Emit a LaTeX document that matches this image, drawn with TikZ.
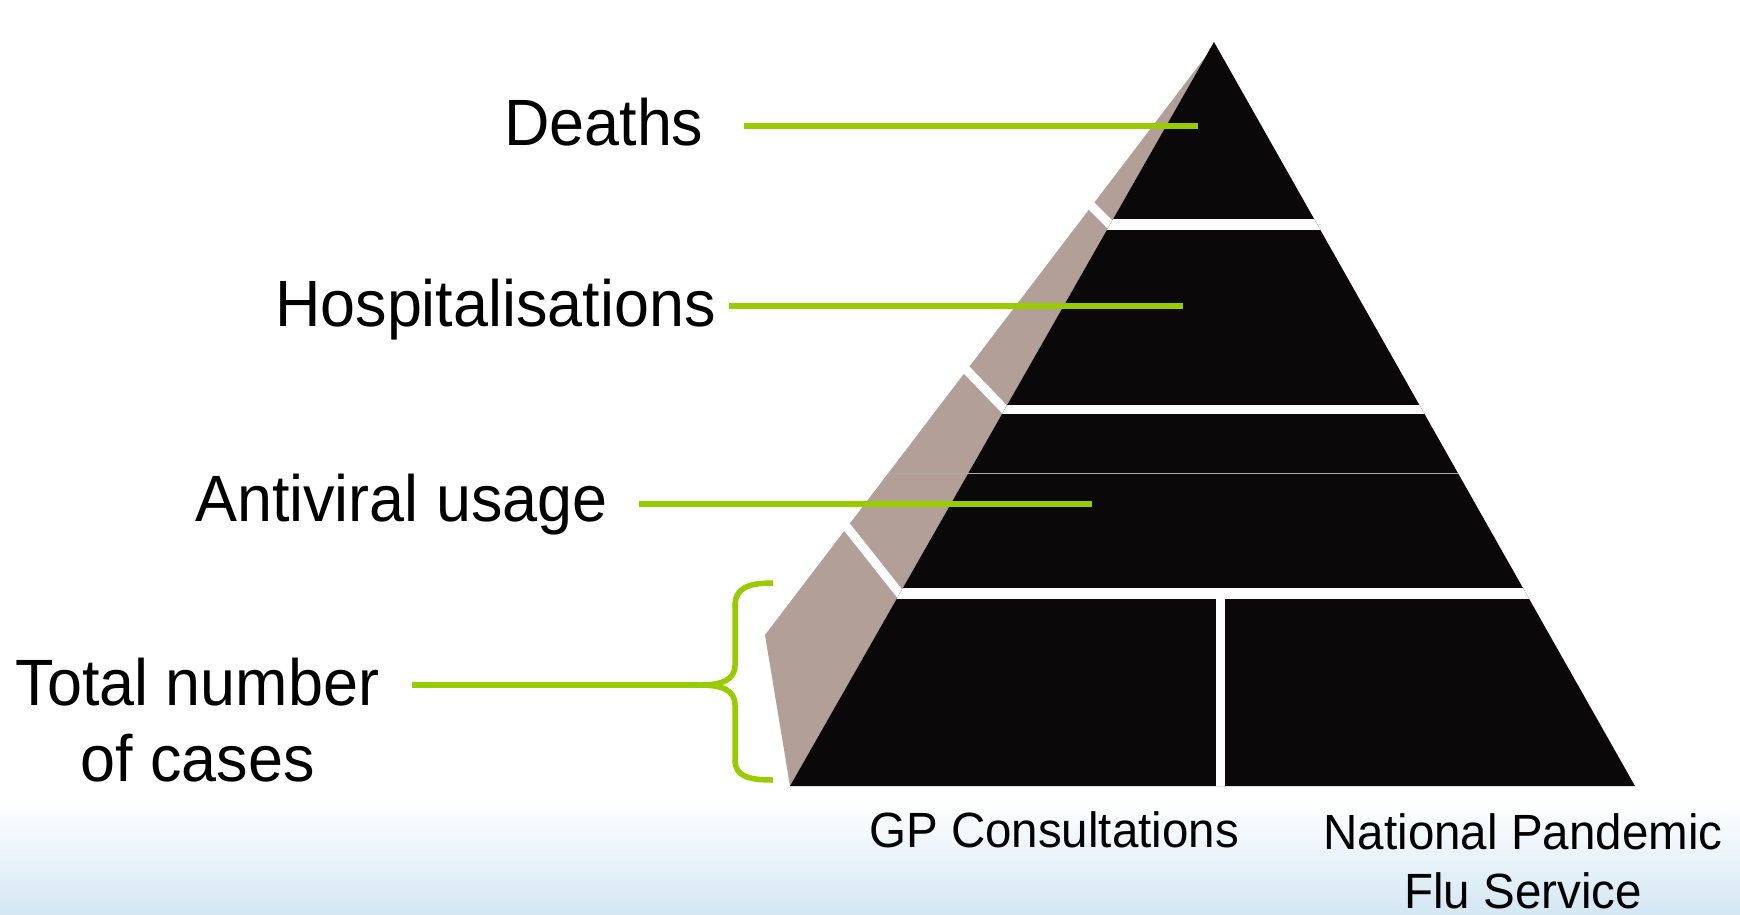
\documentclass[tikz,border=0pt]{standalone}
\usepackage{fontspec}
\setmainfont{Liberation Sans}[FakeStretch=0.96]
\definecolor{pgreen}{RGB}{153,204,0}
\definecolor{pblack}{RGB}{10,8,8}
\definecolor{pgray}{RGB}{178,160,152}
\definecolor{pblue}{RGB}{212,231,243}
\definecolor{partline}{RGB}{170,170,170}
\begin{document}
\begin{tikzpicture}[x=1pt,y=-1pt,
  lab/.style={inner sep=0pt, font=\fontsize{65.5}{75.5}\selectfont},
  sublab/.style={inner sep=0pt, font=\fontsize{49.5}{59}\selectfont},
  gline/.style={draw=pgreen, line width=6pt},
  bracestyle/.style={draw=pgreen, line width=5.5pt, line join=round},
  gapline/.style={draw=white, line width=9pt},
]
\useasboundingbox (0,0) rectangle (1740,914);
\fill[white] (0,0) rectangle (1740,914);
\shade[top color=white, bottom color=pblue] (0,800) rectangle (1740,914);

% grey side face of the pyramid
\fill[pgray] (1212,48) -- (765,635) -- (790,786) -- (1214,42) -- cycle;
% white gaps on the side face
\draw[gapline] (1116,230.5) -- (1078,192.5);
\draw[gapline] (1010,415) -- (955,358);
\draw[gapline] (904,599) -- (835,512);

% black pyramid
\fill[pblack] (1214,42) -- (790,786) -- (1635,786) -- cycle;
\begin{scope}
  \clip (1214,42) -- (790,786) -- (1635,786) -- cycle;
  \fill[white] (700,219) rectangle (1700,230);
  \fill[white] (700,405) rectangle (1700,414);
  \fill[white] (700,588) rectangle (1700,599);
  \fill[white] (1216,599) rectangle (1225,800);
\end{scope}
\draw[partline, line width=1pt] (888,473) -- (1458,473);

% labels
\node[lab, anchor=base west] (deaths) at (504,145) {Deaths};
\node[lab, anchor=base west] (hosp) at (275,326) {Hospitalisations};
\node[lab, anchor=base west] (anti) at (195,521) {Antiviral usage};
\node[lab, anchor=north, align=center] (total) at (197.5,658) {Total number\\of cases};
\node[sublab, anchor=base west] (gp) at (869,847) {GP Consultations};
\node[sublab, anchor=north, align=center] (npfs) at (1523,813.6) {National Pandemic\\Flu Service};

% connector end points
\coordinate (dL) at (744,126);  \coordinate (dR) at (1198,126);
\coordinate (hL) at (729,306);  \coordinate (hR) at (1183,306);
\coordinate (aL) at (639,504);  \coordinate (aR) at (1092,504);
\coordinate (tL) at (412,685);  \coordinate (btip) at (700,685);
\coordinate (btop) at (773,583); \coordinate (bbot) at (773,780);

\draw[gline] (dL) -- (dR);
\draw[gline] (hL) -- (hR);
\draw[gline] (aL) -- (aR);
\draw[gline] (tL) -- (btip);
\draw[bracestyle] (btop) .. controls (748,583) and (735,588) .. (735,606)
  -- (735,665) .. controls (735,680) and (722,685) .. (btip)
  .. controls (722,685) and (735,690) .. (735,705)
  -- (735,760) .. controls (735,776) and (748,780) .. (bbot);
\end{tikzpicture}
\end{document}
